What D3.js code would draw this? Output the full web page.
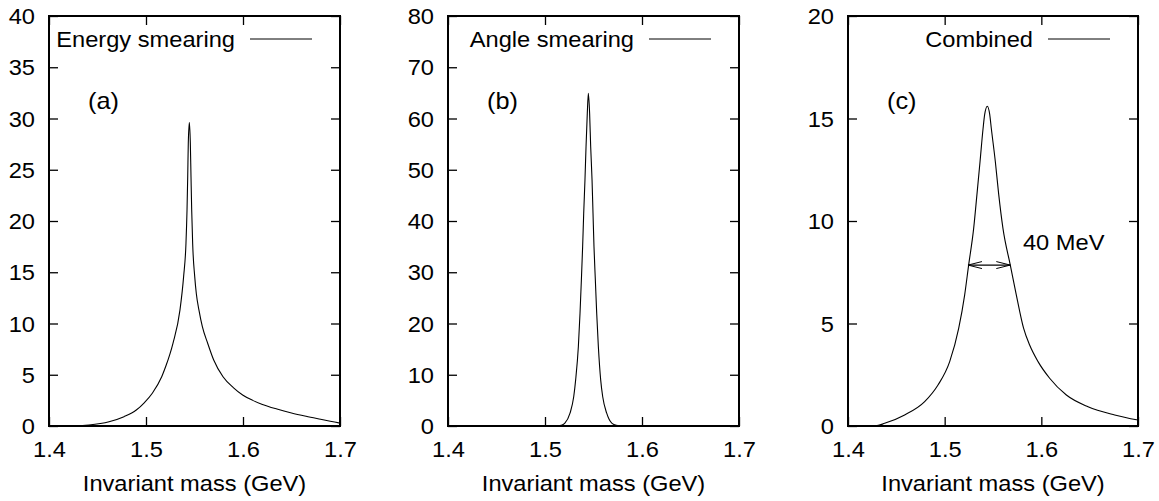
<!DOCTYPE html>
<html>
<head>
<meta charset="utf-8">
<script src="https://cdn.jsdelivr.net/npm/d3@7"></script>
<style>
  html, body { margin: 0; padding: 0; background: #fff; }
  svg { display: block; }
  text { font-family: "Liberation Sans", Arial, Helvetica, sans-serif; fill: #000; }
</style>
</head>
<body>
<svg id="chart" width="1159" height="501"></svg>
<script>
// ---------------- data ----------------
const xTicks = [1.4, 1.5, 1.6, 1.7];
const yTicksA = [0, 5, 10, 15, 20, 25, 30, 35, 40];
const yTicksB = [0, 10, 20, 30, 40, 50, 60, 70, 80];
const yTicksC = [0, 5, 10, 15, 20];

// (a) Energy smearing
const energyMass = [1.400, 1.430, 1.4412, 1.4619, 1.4773, 1.4900, 1.4979, 1.5065, 1.5162, 1.5203,
  1.5278, 1.5350, 1.5388, 1.5412, 1.5423, 1.5430, 1.5436, 1.5447,
  1.5457, 1.5464, 1.5471, 1.5481, 1.5502, 1.5519, 1.5546, 1.5581, 1.5636, 1.5698, 1.5794, 1.5900,
  1.600, 1.610, 1.620, 1.635, 1.650, 1.665, 1.680, 1.690, 1.700];
const energyVal = [0, 0.02, 0.10, 0.42, 0.91, 1.56, 2.24, 3.20, 4.81, 5.80,
  8.07, 11.3, 14.6, 17.8, 21.1, 24.3, 27.6, 29.6,
  27.6, 24.3, 21.1, 17.8, 14.6, 12.9, 11.3, 9.69, 8.07, 6.44, 4.81, 3.75,
  3.00, 2.50, 2.10, 1.65, 1.27, 0.95, 0.66, 0.47, 0.28];

// (b) Angle smearing
const angleMass = [1.400, 1.510, 1.5168, 1.5203, 1.5258, 1.5296, 1.5316, 1.5344, 1.5361, 1.5375,
  1.5388, 1.5399, 1.5412, 1.5423, 1.5436, 1.5447,
  1.5460, 1.5471, 1.5485, 1.5495, 1.5505, 1.5519, 1.5533, 1.5550, 1.5574, 1.5595,
  1.5636, 1.5691, 1.5735, 1.580, 1.700];
const angleVal = [0, 0, 0.13, 0.5, 2.5, 5.7, 9.0, 15.5, 22.0, 28.5,
  35.0, 41.5, 48.0, 54.5, 61.0, 64.9,
  61.0, 54.5, 48.0, 41.5, 35.0, 28.5, 22.0, 15.5, 9.0, 5.7,
  2.5, 0.5, 0.13, 0, 0];

// (c) Combined
const combinedMass = [1.400, 1.430, 1.4379, 1.4586, 1.4793, 1.4931, 1.5052, 1.5145, 1.5207, 1.5248,
  1.5300, 1.5334, 1.5366, 1.5397, 1.5414, 1.5441,
  1.5466, 1.5483, 1.5524, 1.5559, 1.5603, 1.5679, 1.5741, 1.5817, 1.5879, 1.5966,
  1.6086, 1.6259, 1.6483, 1.6759, 1.700];
const combinedVal = [0, 0.02, 0.13, 0.54, 1.19, 2.0, 3.14, 4.76, 6.4, 7.85,
  9.64, 11.3, 12.9, 14.5, 15.2, 15.6,
  15.2, 14.5, 12.9, 11.3, 9.64, 7.85, 6.4, 4.76, 3.95, 3.14,
  2.33, 1.51, 0.94, 0.54, 0.29];

// FWHM annotation in (c)
const fwhmRange = [1.5241, 1.5679];
const fwhmLevel = 7.85;
const fwhmLabel = "40 MeV";

const legendLabels = ["Energy smearing", "Angle smearing", "Combined"];
const panelTags = ["(a)", "(b)", "(c)"];
const xTitle = "Invariant mass (GeV)";

// ---------------- layout ----------------
const FS = 21.5, SX = 1.1, TAG_FS = 23;
const plotTop = 16, plotBottom = 426;
const panels = [
  { left: 49, right: 340, yMax: 40, yTicks: yTicksA, mass: energyMass, val: energyVal },
  { left: 448, right: 739, yMax: 80, yTicks: yTicksB, mass: angleMass, val: angleVal },
  { left: 848, right: 1138, yMax: 20, yTicks: yTicksC, mass: combinedMass, val: combinedVal }
];

const svg = d3.select("#chart");

function addText(g, x, y, str, anchor, fs) {
  return g.append("text")
    .attr("transform", `translate(${x},${y}) scale(${SX},1)`)
    .attr("text-anchor", anchor)
    .style("font-size", (fs || FS) + "px")
    .text(str);
}

panels.forEach((p, i) => {
  const g = svg.append("g");
  const x = d3.scaleLinear().domain([1.4, 1.7]).range([p.left, p.right]);
  const y = d3.scaleLinear().domain([0, p.yMax]).range([plotBottom, plotTop]);

  // bottom axis with labels
  const gb = g.append("g").attr("transform", `translate(0,${plotBottom})`)
    .call(d3.axisBottom(x).tickValues(xTicks).tickFormat(d3.format(".1f")).tickSizeInner(-9).tickSizeOuter(0));
  gb.selectAll("text").attr("y", 31).attr("dy", null)
    .attr("transform", `scale(${SX},1)`).style("font-size", FS + "px");
  // top mirror ticks
  const gt = g.append("g").attr("transform", `translate(0,${plotTop})`)
    .call(d3.axisTop(x).tickValues(xTicks).tickSizeInner(-9).tickSizeOuter(0));
  gt.selectAll("text").remove();
  // left axis with labels
  const gl = g.append("g").attr("transform", `translate(${p.left},0)`)
    .call(d3.axisLeft(y).tickValues(p.yTicks).tickFormat(d3.format("d")).tickSizeInner(-9).tickSizeOuter(0));
  gl.selectAll("text").attr("x", -14 / SX).attr("dy", null).attr("y", 7.5)
    .attr("transform", `scale(${SX},1)`).style("font-size", FS + "px");
  // right mirror ticks
  const gr = g.append("g").attr("transform", `translate(${p.right},0)`)
    .call(d3.axisRight(y).tickValues(p.yTicks).tickSizeInner(-9).tickSizeOuter(0));
  gr.selectAll("text").remove();

  g.selectAll("g").attr("font-family", null).attr("font-size", null);
  g.selectAll(".domain").remove();
  g.selectAll(".tick line").attr("stroke", "#000").attr("stroke-width", 1.3);
  g.selectAll(".tick text").attr("fill", "#000");

  // frame
  g.append("rect")
    .attr("x", p.left).attr("y", plotTop)
    .attr("width", p.right - p.left).attr("height", plotBottom - plotTop)
    .attr("fill", "none").attr("stroke", "#000").attr("stroke-width", 2);

  // curve
  const pts = p.mass.map((m, k) => [m, p.val[k]]);
  const line = d3.line().x(d => x(d[0])).y(d => y(d[1])).curve(d3.curveMonotoneX);
  g.append("path").attr("d", line(pts))
    .attr("fill", "none").attr("stroke", "#000").attr("stroke-width", 1.1);

  // legend
  addText(g, p.right - 105, 46.5, legendLabels[i], "end");
  g.append("line").attr("x1", p.right - 90).attr("x2", p.right - 28)
    .attr("y1", 39).attr("y2", 39).attr("stroke", "#000").attr("stroke-width", 1);

  // panel tag
  addText(g, p.left + 39, 109, panelTags[i], "start", TAG_FS);

  // x title
  addText(g, (p.left + p.right) / 2, 491, xTitle, "middle");

  // FWHM annotation
  if (i === 2) {
    const x1 = x(fwhmRange[0]), x2 = x(fwhmRange[1]), yy = y(fwhmLevel);
    const hl = 14, hw = 3.5;
    g.append("line").attr("x1", x1).attr("x2", x2).attr("y1", yy).attr("y2", yy)
      .attr("stroke", "#000").attr("stroke-width", 1.2);
    g.append("path")
      .attr("d", `M${x1 + hl},${yy - hw}L${x1},${yy}L${x1 + hl},${yy + hw}M${x2 - hl},${yy - hw}L${x2},${yy}L${x2 - hl},${yy + hw}`)
      .attr("fill", "none").attr("stroke", "#000").attr("stroke-width", 1);
    addText(g, x(1.581), 250, fwhmLabel, "start");
  }
});
</script>
</body>
</html>
